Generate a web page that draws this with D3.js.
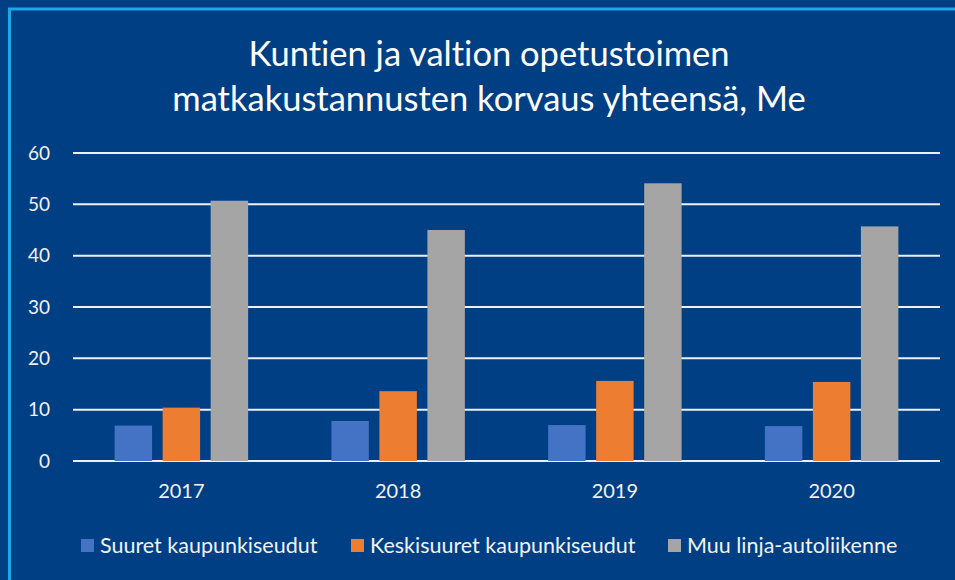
<!DOCTYPE html>
<html>
<head>
<meta charset="utf-8">
<script src="https://cdn.jsdelivr.net/npm/d3@7"></script>
<style>
  html, body { margin: 0; padding: 0; background: #003f84; }
  svg { display: block; }
  text { font-variant-ligatures: none; }
</style>
</head>
<body>
<div id="svg-container"></div>
<script>
// chart data
var years = ['2017', '2018', '2019', '2020'];
var seriesNames = ['Suuret kaupunkiseudut', 'Keskisuuret kaupunkiseudut', 'Muu linja-autoliikenne'];
var suuret = [6.9, 7.8, 7.0, 6.8];
var keskisuuret = [10.4, 13.6, 15.6, 15.4];
var muu = [50.7, 45.0, 54.1, 45.7];
var yTicks = [0, 10, 20, 30, 40, 50, 60];
var titleLines = ['Kuntien ja valtion opetustoimen', 'matkakustannusten korvaus yhteensä, Me'];

var colors = ['#4472c4', '#ed7d31', '#a5a5a5'];
var seriesValues = [suuret, keskisuuret, muu];

var width = 955, height = 580;
var margin = {top: 153, right: 15, bottom: 119, left: 73};
var font = 'Lato, "Open Sans", sans-serif';

var svg = d3.select('#svg-container').append('svg')
  .attr('width', width)
  .attr('height', height);

//background and frame
svg.append('rect')
  .attr('width', width)
  .attr('height', height)
  .style('fill', '#003f84');
svg.append('path')
  .attr('d', 'M9.5,' + height + ' V9 H' + width)
  .style('fill', 'none')
  .style('stroke', '#1ea6ea')
  .style('stroke-width', 3);

//scales
var x0 = d3.scaleBand()
  .domain(years)
  .range([margin.left, width - margin.right]);
var groupPad = (x0.bandwidth() - 133.5) / 2;
var x1 = d3.scaleBand()
  .domain(d3.range(seriesNames.length))
  .range([groupPad, x0.bandwidth() - groupPad])
  .paddingInner(0.22);
var y = d3.scaleLinear()
  .domain([0, 60])
  .range([height - margin.bottom, margin.top]);

//gridlines
svg.append('g')
  .selectAll('line')
  .data(yTicks)
  .join('line')
  .attr('x1', margin.left)
  .attr('x2', width - margin.right)
  .attr('y1', d => y(d))
  .attr('y2', d => y(d))
  .style('stroke', '#ffffff')
  .style('stroke-opacity', 0.92)
  .style('stroke-width', 2);

//y axis labels
var yAxis = svg.append('g')
  .attr('transform', 'translate(' + (margin.left - 23) + ',0)')
  .call(d3.axisLeft(y).tickValues(yTicks).tickSize(0).tickPadding(0));
yAxis.select('.domain').remove();
yAxis.selectAll('text')
  .style('font-family', font)
  .style('font-size', '19px')
  .style('fill', '#f2f2f2');

//bars
var groups = svg.append('g')
  .selectAll('g')
  .data(years)
  .join('g')
  .attr('transform', d => 'translate(' + x0(d) + ',0)');

groups.selectAll('rect')
  .data((d, i) => seriesValues.map((vals, s) => ({s: s, v: vals[i]})))
  .join('rect')
  .attr('x', d => x1(d.s))
  .attr('width', x1.bandwidth())
  .attr('y', d => y(d.v))
  .attr('height', d => y(0) - y(d.v))
  .style('fill', d => colors[d.s]);

//x axis labels
var xAxis = svg.append('g')
  .attr('transform', 'translate(0,' + (y(0) + 15) + ')')
  .call(d3.axisBottom(x0).tickSize(0).tickPadding(8));
xAxis.select('.domain').remove();
xAxis.selectAll('text')
  .style('font-family', font)
  .style('font-size', '20px')
  .style('fill', '#f2f2f2');

//title
svg.append('g')
  .selectAll('text')
  .data(titleLines)
  .join('text')
  .attr('x', 489)
  .attr('y', (d, i) => 66 + i * 45)
  .attr('text-anchor', 'middle')
  .style('font-family', font)
  .style('font-size', '34.5px')
  .style('fill', '#ffffff')
  .text(d => d);

//legend
var legendX = [81, 351, 668];
var legend = svg.append('g')
  .selectAll('g')
  .data(seriesNames)
  .join('g')
  .attr('transform', (d, i) => 'translate(' + legendX[i] + ',539)');
legend.append('rect')
  .attr('width', 13)
  .attr('height', 13)
  .style('fill', (d, i) => colors[i]);
legend.append('text')
  .attr('x', 19)
  .attr('y', 14)
  .style('font-family', font)
  .style('font-size', '21.5px')
  .style('fill', '#f2f2f2')
  .text(d => d);
</script>
</body>
</html>
